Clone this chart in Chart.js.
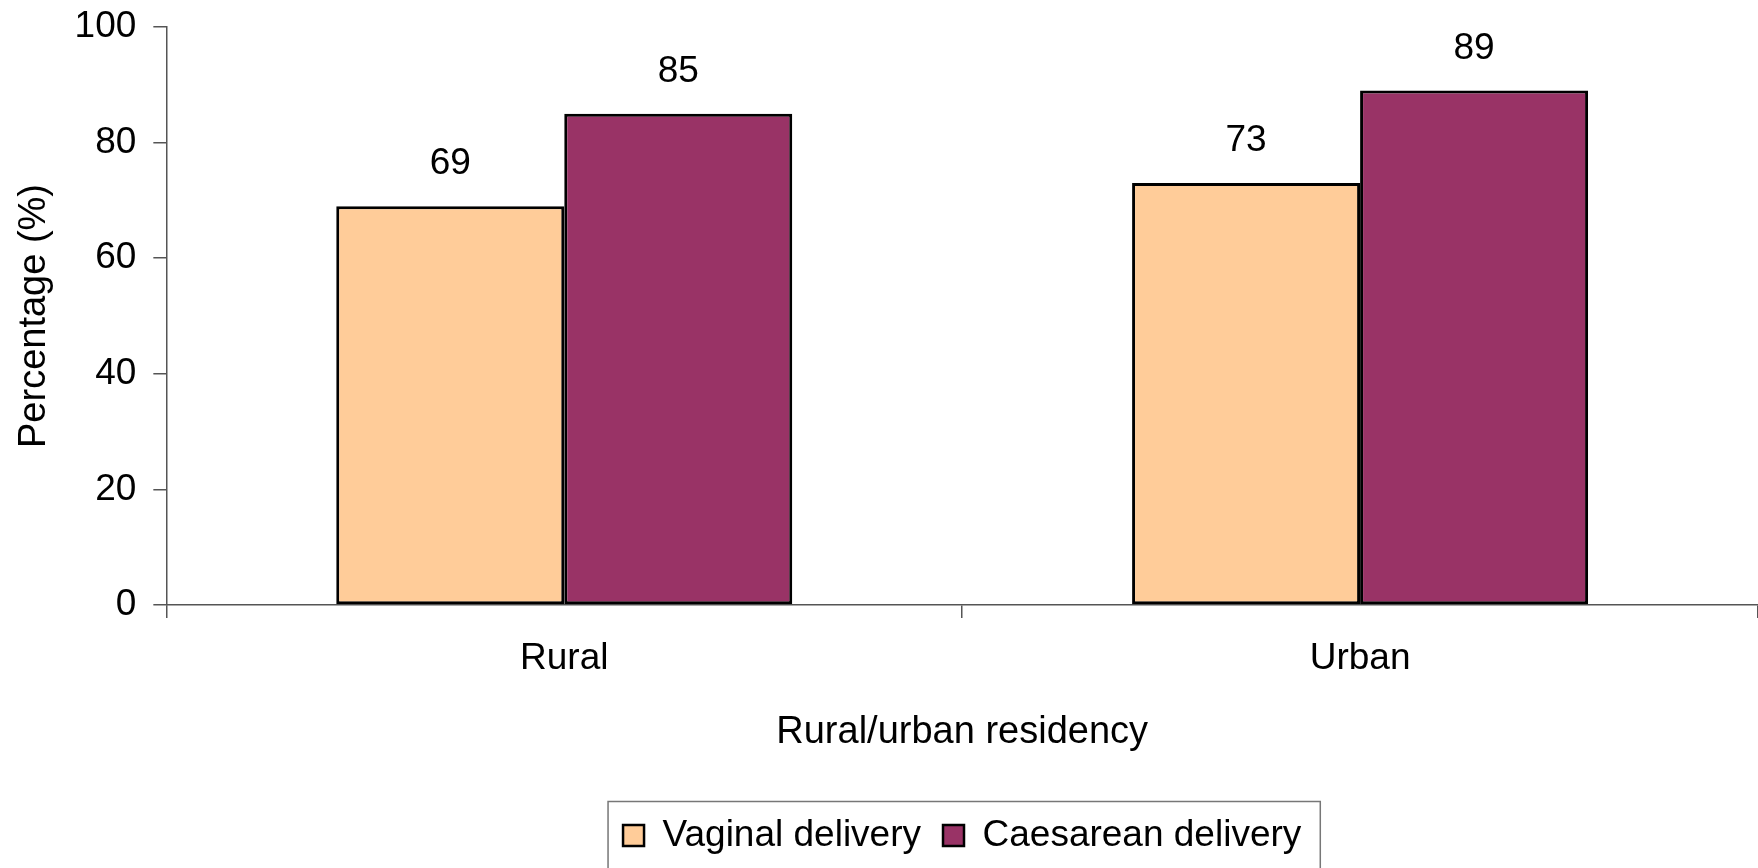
<!DOCTYPE html>
<html>
<head>
<meta charset="utf-8">
<script src="https://cdn.jsdelivr.net/npm/chart.js@4/dist/chart.umd.min.js"></script>
<style>
  html, body { margin: 0; padding: 0; background: #ffffff; }
  #wrap { width: 1758px; height: 868px; position: relative; }
</style>
</head>
<body>
<div id="wrap"><canvas id="c" width="1758" height="868"></canvas></div>
<script>
const categories = ['Rural', 'Urban'];
const vaginal = [69, 73];
const caesarean = [85, 89];
const seriesNames = ['Vaginal delivery', 'Caesarean delivery'];
const yTicks = [0, 20, 40, 60, 80, 100];
const xTitle = 'Rural/urban residency';
const yTitle = 'Percentage (%)';

const FONT = "'Liberation Sans', Arial, sans-serif";

const valueLabels = {
  id: 'valueLabels',
  afterDatasetsDraw(chart) {
    const ctx = chart.ctx;
    ctx.save();
    ctx.font = '37px ' + FONT;
    ctx.fillStyle = '#000';
    ctx.textAlign = 'center';
    ctx.textBaseline = 'middle';
    chart.data.datasets.forEach((ds, i) => {
      const meta = chart.getDatasetMeta(i);
      meta.data.forEach((bar, j) => {
        ctx.fillText(String(ds.data[j]), bar.x, bar.y - 42);
      });
    });
    ctx.restore();
  }
};

const legendBorder = {
  id: 'legendBorder',
  afterDraw(chart) {
    const lg = chart.legend;
    if (!lg || !lg.legendHitBoxes || !lg.legendHitBoxes.length) return;
    const hb = lg.legendHitBoxes;
    const first = hb[0], last = hb[hb.length - 1];
    const cy = first.top + first.height / 2;
    const ctx = chart.ctx;
    ctx.save();
    ctx.strokeStyle = '#777';
    ctx.lineWidth = 1.5;
    ctx.beginPath();
    const left = first.left - 15;
    const right = last.left + last.width + 19;
    const top = cy - 34;
    ctx.moveTo(left, chart.height + 5);
    ctx.lineTo(left, top);
    ctx.lineTo(right, top);
    ctx.lineTo(right, chart.height + 5);
    ctx.stroke();
    ctx.restore();
  }
};

new Chart(document.getElementById('c'), {
  type: 'bar',
  data: {
    labels: categories,
    datasets: [
      { label: seriesNames[0], data: vaginal, backgroundColor: '#FFCC99', borderColor: '#000', borderWidth: 3, borderSkipped: false },
      { label: seriesNames[1], data: caesarean, backgroundColor: '#993366', borderColor: '#000', borderWidth: 3, borderSkipped: false }
    ]
  },
  options: {
    responsive: false,
    animation: false,
    devicePixelRatio: 1,
    layout: { padding: { top: 0, right: 0, bottom: 4, left: 0 } },
    datasets: { bar: { categoryPercentage: 0.573, barPercentage: 1.0 } },
    plugins: {
      tooltip: { enabled: false },
      legend: {
        position: 'bottom',
        fullSize: false,
        labels: {
          color: '#000',
          font: { family: FONT, size: 37, lineHeight: 1.2 },
          boxWidth: 21,
          boxHeight: 21,
          padding: 22,
          generateLabels(chart) {
            return chart.data.datasets.map((ds, i) => ({
              text: ds.label,
              fillStyle: ds.backgroundColor,
              strokeStyle: '#000',
              lineWidth: 2.5,
              hidden: false,
              datasetIndex: i,
              fontColor: '#000'
            }));
          }
        }
      }
    },
    scales: {
      x: {
        offset: true,
        grid: { display: true, offset: true, drawOnChartArea: false, drawTicks: true, tickLength: 13, color: '#555', lineWidth: 1.5 },
        border: { display: true, color: '#555', width: 1.5 },
        ticks: { color: '#000', padding: 19, font: { family: FONT, size: 37, lineHeight: 1.2 } },
        title: { display: true, text: xTitle, color: '#000', font: { family: FONT, size: 38, lineHeight: 1.2 }, padding: { top: 9, bottom: 40 } }
      },
      y: {
        min: 0,
        max: 100,
        afterBuildTicks(axis) { axis.ticks = yTicks.map(v => ({ value: v })); },
        grid: { display: true, drawOnChartArea: false, drawTicks: true, tickLength: 13, color: '#555', lineWidth: 1.5 },
        border: { display: true, color: '#555', width: 1.5 },
        ticks: { color: '#000', padding: 17, font: { family: FONT, size: 37, lineHeight: 0.54 } },
        title: { display: true, text: yTitle, color: '#000', font: { family: FONT, size: 38, lineHeight: 1.2 }, padding: { top: 12, bottom: 0 } }
      }
    }
  },
  plugins: [valueLabels, legendBorder]
});
</script>
</body>
</html>
